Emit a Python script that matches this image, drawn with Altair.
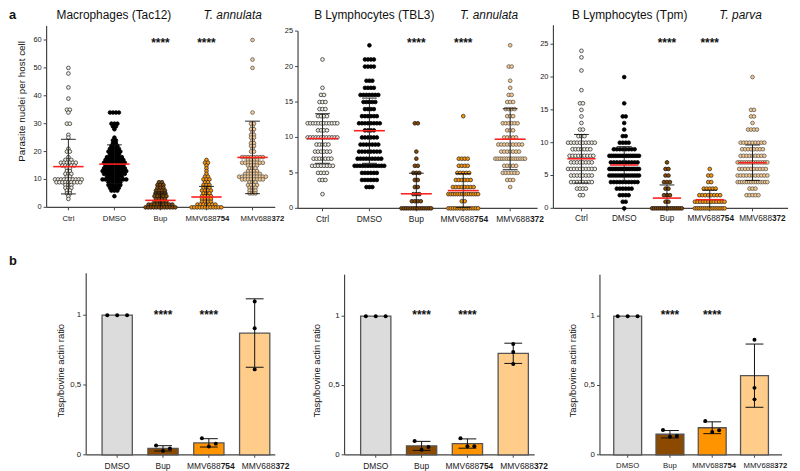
import altair as alt
import pandas as pd
import numpy as np

# ---------------------------------------------------------------- data
groups_a = ["Ctrl", "DMSO", "Bup", "MMV688754", "MMV688372"]
labels_a_main = ["Ctrl", "DMSO", "Bup", "MMV688", "MMV688"]
labels_a_bold = ["", "", "", "754", "372"]
groups_b = ["DMSO", "Bup", "MMV688754", "MMV688372"]
labels_b_main = ["DMSO", "Bup", "MMV688", "MMV688"]
labels_b_bold = ["", "", "754", "372"]

yticks_a1 = [0, 10, 20, 30, 40, 50, 60]
yticks_a2 = [0, 5, 10, 15, 20, 25]
yticks_a3 = [0, 5, 10, 15, 20, 25]
yticks_b = [0, 0.5, 1]
yticklabels_b = ["0", "0,5", "1"]

# value -> number of host cells (panel a, Macrophages Tac12)
a1_ctrl = {50: 1, 48: 1, 43: 1, 39: 1, 35: 2, 34: 1, 30: 2, 26: 1, 25: 1, 21: 1, 20: 2, 18: 1, 17: 3,
           16: 6, 15: 5, 14: 2, 13: 2, 12: 3, 11: 2, 10: 10, 9: 9, 8: 3, 7: 3, 6: 2, 5: 2, 4: 1, 3: 1}
a1_dmso = {34: 4, 30: 3, 29: 2, 28: 1, 25: 1, 24: 2, 23: 2, 22: 3, 21: 4, 20: 5, 19: 4, 18: 6, 17: 7,
           16: 8, 15: 7, 14: 8, 13: 9, 12: 8, 11: 6, 10: 9, 9: 5, 8: 5, 7: 4, 6: 3, 4: 1}
a1_bup = {9: 2, 8: 3, 7: 3, 6: 4, 5: 4, 4: 5, 3: 4, 2: 5, 1: 9, 0: 12}
a1_754 = {17: 1, 16: 2, 15: 1, 14: 1, 13: 1, 12: 1, 11: 2, 10: 3, 9: 2, 8: 3, 7: 3, 6: 4, 5: 3, 4: 4,
          3: 4, 2: 4, 1: 7, 0: 12}
a1_372 = {60: 1, 53: 1, 50: 1, 34: 1, 30: 2, 29: 1, 28: 2, 27: 1, 26: 2, 25: 2, 24: 1, 23: 2, 22: 2,
          21: 1, 20: 2, 18: 8, 17: 4, 16: 8, 15: 4, 14: 3, 13: 4, 12: 6, 11: 10, 10: 8, 9: 3, 8: 4,
          7: 3, 6: 3, 5: 3}
a1_mean = [14.6, 15.5, 2.5, 3.7, 17.9]
a1_sd = [9.8, 6.9, 2.6, 3.8, 13.0]

# B Lymphocytes TBL3
a2_ctrl = {21: 1, 17: 1, 16: 2, 15: 3, 14: 3, 13: 4, 12: 12, 11: 4, 10: 12, 9: 5, 8: 6, 7: 7, 6: 8,
           5: 4, 4: 3, 2: 1}
a2_dmso = {23: 1, 21: 4, 20: 4, 18: 3, 17: 4, 16: 7, 15: 5, 14: 4, 13: 6, 12: 8, 11: 4, 10: 6, 9: 7,
           8: 8, 7: 9, 6: 12, 5: 6, 4: 6, 3: 3}
a2_bup = {12: 2, 8: 1, 7: 1, 6: 2, 5: 3, 4: 2, 3: 2, 2: 3, 1: 4, 0: 14}
a2_754 = {13: 1, 7: 4, 6: 4, 5: 5, 4: 6, 3: 8, 2: 14, 1: 2, 0: 14}
a2_372 = {23: 1, 20: 2, 18: 1, 17: 1, 16: 2, 15: 3, 14: 4, 13: 3, 12: 6, 11: 3, 10: 5, 9: 9, 8: 7,
          7: 14, 6: 5, 5: 6, 4: 3, 3: 1}
a2_mean = [9.85, 10.95, 2.05, 2.5, 9.75]
a2_sd = [3.5, 4.6, 2.9, 2.4, 4.3]

# B Lymphocytes Tpm
a3_ctrl = {24: 1, 23: 1, 21: 1, 18: 1, 16: 2, 15: 1, 14: 1, 13: 1, 12: 2, 11: 3, 10: 10, 9: 7, 8: 9,
           7: 8, 6: 10, 5: 8, 4: 8, 3: 4, 2: 2}
a3_dmso = {20: 1, 16: 1, 14: 2, 13: 1, 12: 1, 11: 2, 10: 4, 9: 8, 8: 15, 7: 10, 6: 20, 5: 15, 4: 10,
           3: 6, 2: 4, 1: 2, 0: 1}
a3_bup = {7: 1, 6: 2, 5: 2, 4: 3, 3: 2, 2: 3, 1: 2, 0: 16}
a3_754 = {6: 1, 5: 2, 4: 2, 3: 5, 2: 8, 1: 12, 0: 16}
a3_372 = {20: 1, 15: 2, 14: 2, 13: 1, 12: 4, 10: 9, 9: 8, 8: 9, 7: 14, 6: 10, 5: 11, 4: 14, 3: 3, 2: 5}
a3_mean = [7.55, 6.6, 1.56, 1.31, 6.95]
a3_sd = [3.7, 2.8, 2.0, 1.45, 2.7]

# panel b: Tasp/bovine actin ratio, three replicates per group
b1_reps = [[1.0, 1.0, 1.0], [0.066, 0.028, 0.045], [0.118, 0.059, 0.080], [1.099, 0.906, 0.612]]
b2_reps = [[1.0, 1.0, 1.0], [0.100, 0.036, 0.057], [0.120, 0.062, 0.062], [0.800, 0.742, 0.655]]
b3_reps = [[1.0, 1.0, 1.0], [0.179, 0.130, 0.136], [0.244, 0.165, 0.177], [0.830, 0.483, 0.400]]

# ---------------------------------------------------------------- styles
FONT = "Liberation Sans"
M = 8
W, H = 792, 463
AX = "#444444"
pt_fill = ["#f3efe3", "#000000", "#8b4a00", "#ff9500", "#f7c98e"]
pt_stroke = ["#333333", "#000000", "#1a1a1a", "#333333", "#5a5a5a"]
bar_fill = ["#dcdcdc", "#8b4a00", "#ff9300", "#ffcc8a"]
label_shift_a = [0, 0, 0, 1, 10]
label_shift_b = [0, 0, 2, 11]


def Xq(field, xs):
    return alt.X(field, type="quantitative", scale=xs, axis=None)


def Yq(field, ys):
    return alt.Y(field, type="quantitative", scale=ys, axis=None)


def scales(lay, ytop):
    x0, c0, step, x1, yz, unit = lay
    xdom = [(x0 - c0) / step, (x1 - c0) / step]
    xs = alt.Scale(domain=xdom, range=[x0 - M, x1 - M], nice=False, zero=False)
    ys = alt.Scale(domain=[0, ytop], range=[yz - M, yz - M - ytop * unit], nice=False, zero=False)
    return xs, ys, xdom


def axis_layers(xs, ys, xdom, lay, ytop, ticks, ticklabels, ngroups, tick_fs):
    x0, c0, step, x1, yz, unit = lay
    ydom_df = pd.DataFrame({"x": [xdom[0]], "y1": [0.0], "y2": [ytop]})
    xdom_df = pd.DataFrame({"x1": [xdom[0]], "x2": [xdom[1]], "y": [0.0]})
    yt = pd.DataFrame({"x1": [xdom[0] - 3.0 / step] * len(ticks), "x2": [xdom[0]] * len(ticks),
                       "y": ticks, "lab": ticklabels, "x": [xdom[0]] * len(ticks)})
    xt = pd.DataFrame({"x": list(range(ngroups)), "y1": [0.0] * ngroups,
                       "y2": [-3.0 / unit] * ngroups})
    ly = alt.Chart(ydom_df).mark_rule(color=AX, strokeWidth=1.2).encode(
        x=Xq("x", xs), y=Yq("y1", ys), y2="y2")
    lx = alt.Chart(xdom_df).mark_rule(color=AX, strokeWidth=1.2).encode(
        x=Xq("x1", xs), x2="x2", y=Yq("y", ys))
    tky = alt.Chart(yt).mark_rule(color=AX, strokeWidth=1).encode(
        x=Xq("x1", xs), x2="x2", y=Yq("y", ys))
    tly = alt.Chart(yt).mark_text(align="right", baseline="middle", dx=-5, fontSize=tick_fs,
                                  font=FONT, color="#222").encode(
        x=Xq("x", xs), y=Yq("y", ys), text="lab:N")
    tkx = alt.Chart(xt).mark_rule(color=AX, strokeWidth=1).encode(
        x=Xq("x", xs), y=Yq("y1", ys), y2="y2")
    return [ly, lx, tky, tly, tkx]


def label_layers(xs, mains, bolds, shifts, label_y, fs):
    dxv = 1.166 * fs
    out = []
    for gi in range(len(mains)):
        df = pd.DataFrame({"g": [gi], "main": [mains[gi]], "bold": [bolds[gi]]})
        if bolds[gi] == "":
            out.append(alt.Chart(df).mark_text(
                align="center", baseline="middle", fontSize=fs, font=FONT, color="#1a1a1a",
                dx=shifts[gi]).encode(x=Xq("g", xs), y=alt.value(label_y), text="main:N"))
        else:
            out.append(alt.Chart(df).mark_text(
                align="right", baseline="middle", fontSize=fs, font=FONT, color="#1a1a1a",
                dx=dxv + shifts[gi]).encode(x=Xq("g", xs), y=alt.value(label_y), text="main:N"))
            out.append(alt.Chart(df).mark_text(
                align="left", baseline="middle", fontSize=fs, font=FONT, color="#1a1a1a",
                dx=dxv + shifts[gi], fontWeight="bold").encode(
                x=Xq("g", xs), y=alt.value(label_y), text="bold:N"))
    return out


def swarm_panel(counts, means, sds, lay, ytop, yticks, fs, star_y, tick_fs):
    x0, c0, step, x1, yz, unit = lay
    xs, ys, xdom = scales(lay, ytop)
    recs = []
    for gi, cnt in enumerate(counts):
        for v, n in cnt.items():
            s = 3.0 if n < 2 else min(3.0, 30.0 / (n - 1))
            for i in range(n):
                off = (i - (n - 1) / 2) * s
                recs.append({"g": gi + off / step, "v": v, "f": pt_fill[gi], "s": pt_stroke[gi]})
    pts = pd.DataFrame(recs)
    st = pd.DataFrame({"g": list(range(5)), "m": means, "sd": sds})
    st["hi"] = st["m"] + st["sd"]
    st["lo"] = (st["m"] - st["sd"]).clip(lower=0)
    st["ml"] = st["g"] - 0.33
    st["mr"] = st["g"] + 0.33
    cw = 7.5 / step
    caps = pd.concat([
        pd.DataFrame({"c1": st["g"] - cw, "c2": st["g"] + cw, "cy": st["hi"]}),
        pd.DataFrame({"c1": st["g"] - cw, "c2": st["g"] + cw, "cy": st["m"] - st["sd"]}),
    ])
    caps = caps[caps["cy"] > 0]

    points = alt.Chart(pts).mark_point(shape="circle", filled=True, size=14, strokeWidth=0.8,
                                       opacity=1).encode(
        x=Xq("g", xs), y=Yq("v", ys),
        fill=alt.Fill("f:N", scale=None), stroke=alt.Stroke("s:N", scale=None))
    sdl = alt.Chart(st).mark_rule(color="#111", strokeWidth=0.9).encode(
        x=Xq("g", xs), y=Yq("lo", ys), y2="hi")
    capl = alt.Chart(caps).mark_rule(color="#111", strokeWidth=0.9).encode(
        x=Xq("c1", xs), x2="c2", y=Yq("cy", ys))
    meanl = alt.Chart(st).mark_rule(color="#ff2020", strokeWidth=1.6).encode(
        x=Xq("ml", xs), x2="mr", y=Yq("m", ys))
    stars = alt.Chart(st[st["g"].isin([2, 3])]).mark_text(
        text="****", fontSize=12, fontWeight="bold", font=FONT, color="#111",
        baseline="alphabetic").encode(x=Xq("g", xs), y=alt.value(star_y - M))
    axes = axis_layers(xs, ys, xdom, lay, ytop, yticks, [str(t) for t in yticks], 5, tick_fs)
    labs = label_layers(xs, labels_a_main, labels_a_bold, label_shift_a, 219 - M, fs)
    return alt.layer(*axes, points, sdl, capl, meanl, stars, *labs)


def bar_panel(reps, lay, fs):
    x0, c0, step, x1, yz, unit = lay
    ytop = 1.3
    xs, ys, xdom = scales(lay, ytop)
    rows = []
    prec = []
    for gi, r in enumerate(reps):
        arr = np.array(r)
        rows.append({"g": gi, "m": arr.mean(), "sd": arr.std(ddof=1), "f": bar_fill[gi]})
        spread = (arr.max() - arr.min()) < 0.1
        offs = [-7, 0, 7] if spread else [0, 0, 0]
        if gi == 0:
            offs = [-10, 0, 10]
        for k, v in enumerate(r):
            prec.append({"g": gi + offs[k] / step, "v": v})
    st = pd.DataFrame(rows)
    st["b1"] = st["g"] - 0.33
    st["b2"] = st["g"] + 0.33
    st["z"] = 0.0
    st["hi"] = st["m"] + st["sd"]
    st["lo"] = st["m"] - st["sd"]
    cw = 9.0 / step
    st["c1"] = st["g"] - cw
    st["c2"] = st["g"] + cw
    err = st[st["sd"] > 0.001]
    pts = pd.DataFrame(prec)

    bars = alt.Chart(st).mark_bar(stroke="#555", strokeWidth=1.3).encode(
        x=Xq("b1", xs), x2="b2", y=Yq("m", ys), y2="z", fill=alt.Fill("f:N", scale=None))
    el = alt.Chart(err).mark_rule(color="#111", strokeWidth=1).encode(
        x=Xq("g", xs), y=Yq("lo", ys), y2="hi")
    ch = alt.Chart(err).mark_rule(color="#111", strokeWidth=1).encode(
        x=Xq("c1", xs), x2="c2", y=Yq("hi", ys))
    cl = alt.Chart(err).mark_rule(color="#111", strokeWidth=1).encode(
        x=Xq("c1", xs), x2="c2", y=Yq("lo", ys))
    dots = alt.Chart(pts).mark_circle(size=16, color="#000", opacity=1).encode(
        x=Xq("g", xs), y=Yq("v", ys))
    stars = alt.Chart(st[st["g"].isin([1, 2])]).mark_text(
        text="****", fontSize=12, fontWeight="bold", font=FONT, color="#111",
        baseline="alphabetic").encode(x=Xq("g", xs), y=alt.value(320 - M))
    axes = axis_layers(xs, ys, xdom, lay, ytop, yticks_b, yticklabels_b, 4, 8)
    labs = label_layers(xs, labels_b_main, labels_b_bold, label_shift_b, 468 - M, fs)
    return alt.layer(*axes, bars, el, ch, cl, dots, stars, *labs)


def txt(s, x, y, size=12, style="normal", weight="normal", align="center", angle=0):
    return alt.Chart(alt.Data(values=[{}])).mark_text(
        text=s, fontSize=size, fontStyle=style, fontWeight=weight, font=FONT, color="#111",
        align=align, baseline="middle" if angle else "alphabetic", angle=angle).encode(
        x=alt.value(x - M), y=alt.value(y - M))


p_a1 = swarm_panel([a1_ctrl, a1_dmso, a1_bup, a1_754, a1_372], a1_mean, a1_sd,
                   (47, 69, 46.5, 278, 207, 2.817), 65, yticks_a1, 7.8, 45, 7.5)
p_a2 = swarm_panel([a2_ctrl, a2_dmso, a2_bup, a2_754, a2_372], a2_mean, a2_sd,
                   (301, 325.7, 47.4, 543, 208, 7.16), 25, yticks_a2, 8.5, 45, 7.5)
p_a3 = swarm_panel([a3_ctrl, a3_dmso, a3_bup, a3_754, a3_372], a3_mean, a3_sd,
                   (559, 587.3, 43.2, 796, 208, 6.63), 27.9, yticks_a3, 8.3, 45, 7.5)
p_b1 = bar_panel(b1_reps, (87, 118.3, 46.3, 278, 457, 141), 8.5)
p_b2 = bar_panel(b2_reps, (348, 379.5, 46.3, 540, 457, 140), 8.5)
p_b3 = bar_panel(b3_reps, (606, 634, 42.7, 790, 457, 140), 7.8)

titles = [
    txt("a", 9, 17, 13, weight="bold", align="left"),
    txt("b", 9, 265, 13, weight="bold", align="left"),
    txt("Macrophages (Tac12)", 115, 17),
    txt("T. annulata", 235, 17, style="italic"),
    txt("B Lymphocytes (TBL3)", 378, 17),
    txt("T. annulata", 494, 17, style="italic"),
    txt("B Lymphocytes (Tpm)", 636, 17),
    txt("T. parva", 748, 17, style="italic"),
    txt("Parasite nuclei per host cell", 22, 100, 10, angle=270),
    txt("Tasp/bovine actin ratio", 62, 372, 9.5, angle=270),
    txt("Tasp/bovine actin ratio", 320, 372, 9.5, angle=270),
    txt("Tasp/bovine actin ratio", 579, 372, 9.5, angle=270),
]

chart = alt.layer(p_a1, p_a2, p_a3, p_b1, p_b2, p_b3, *titles).resolve_scale(
    x="independent", y="independent").properties(
    width=W, height=H, autosize=alt.AutoSizeParams(type="none"), padding=0,
    background="white").configure_view(stroke=None)

chart.save("out.html", embed_options={"renderer": "svg", "actions": False})
